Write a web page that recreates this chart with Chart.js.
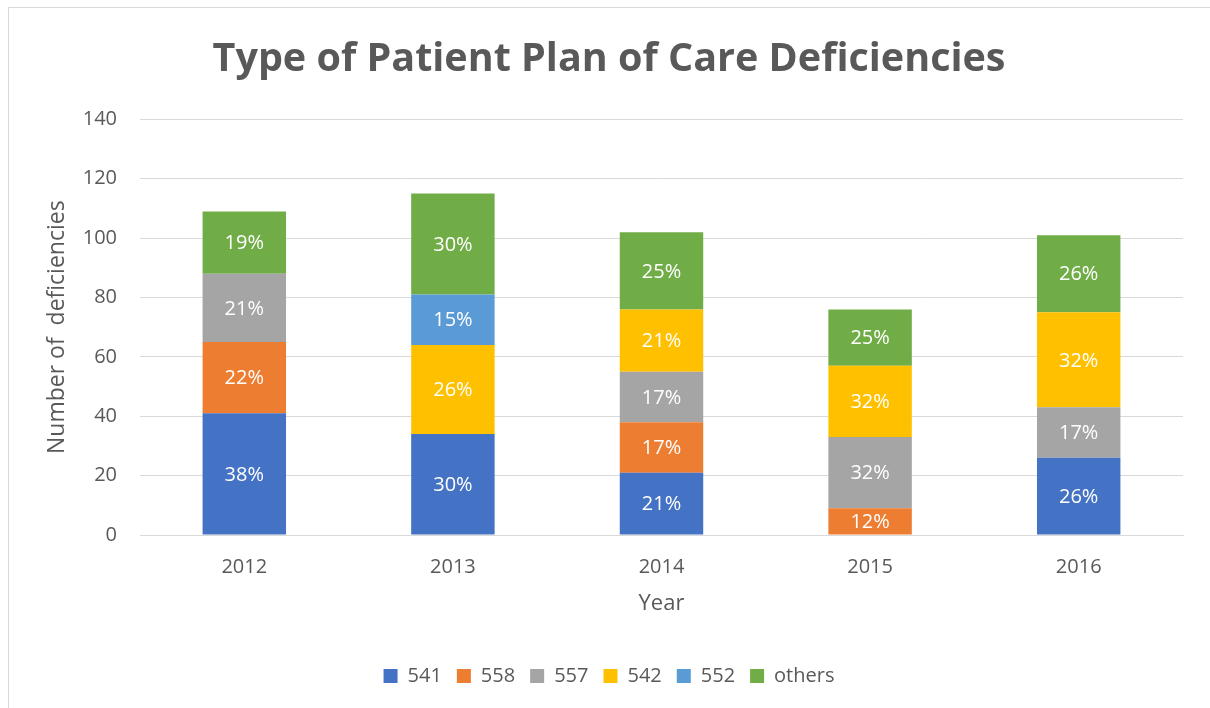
<!DOCTYPE html>
<html>
<head>
<meta charset="utf-8">
<script src="https://cdn.jsdelivr.net/npm/chart.js@4/dist/chart.umd.min.js"></script>
<style>
  html, body { margin: 0; padding: 0; background: #ffffff; }
  #wrap { position: relative; width: 1210px; height: 708px; overflow: hidden; }
  #frame { position: absolute; left: 8px; top: 7px; width: 1300px; height: 800px;
           border-left: 1px solid #D9D9D9; border-top: 1px solid #D9D9D9; pointer-events: none; }
  canvas { position: absolute; left: 0; top: 0; }
</style>
</head>
<body>
<div id="wrap">
  <canvas id="c" width="1210" height="708"></canvas>
  <div id="frame"></div>
</div>
<script>
const categories = ['2012', '2013', '2014', '2015', '2016'];
const seriesNames = ['541', '558', '557', '542', '552', 'others'];
const s541    = [41, 34, 21, 0, 26];
const s558    = [24, 0, 17, 9, 0];
const s557    = [23, 0, 17, 24, 17];
const s542    = [0, 30, 21, 24, 32];
const s552    = [0, 17, 0, 0, 0];
const sOthers = [21, 34, 26, 19, 26];
const colors = ['#4472C4', '#ED7D31', '#A5A5A5', '#FFC000', '#5B9BD5', '#70AD47'];
const yTicks = [0, 20, 40, 60, 80, 100, 120, 140];

const seriesValues = [s541, s558, s557, s542, s552, sOthers];
const totals = categories.map((_, i) => seriesValues.reduce((a, s) => a + s[i], 0));

const textColor = '#595959';
const gridColor = '#D9D9D9';
const FONT = "'Open Sans', 'Liberation Sans', sans-serif";

const pctLabels = {
  id: 'pctLabels',
  afterDatasetsDraw(chart) {
    const ctx = chart.ctx;
    ctx.save();
    ctx.font = '20px ' + FONT;
    ctx.fillStyle = '#ffffff';
    ctx.textAlign = 'center';
    ctx.textBaseline = 'middle';
    chart.data.datasets.forEach((ds, di) => {
      const meta = chart.getDatasetMeta(di);
      meta.data.forEach((bar, i) => {
        const v = ds.data[i];
        if (!v) return;
        const pct = Math.round(v / totals[i] * 100) + '%';
        const yMid = (bar.y + bar.base) / 2;
        ctx.fillText(pct, bar.x, yMid + 1);
      });
    });
    ctx.restore();
  }
};

new Chart(document.getElementById('c'), {
  type: 'bar',
  data: {
    labels: categories,
    datasets: seriesNames.map((n, k) => ({
      label: n,
      data: seriesValues[k],
      backgroundColor: colors[k],
      borderWidth: 0,
      barPercentage: 0.4,
      categoryPercentage: 1.0
    }))
  },
  options: {
    responsive: false,
    animation: false,
    devicePixelRatio: 1,
    layout: { padding: { left: 35, right: 27, top: 0, bottom: 12 } },
    plugins: {
      title: {
        display: true,
        text: 'Type of Patient Plan of Care Deficiencies',
        color: textColor,
        font: { family: FONT, size: 39.5, weight: 'bold' },
        padding: { top: 36, bottom: 36 }
      },
      legend: {
        position: 'bottom',
        labels: {
          color: textColor,
          font: { family: FONT, size: 20 },
          boxWidth: 14,
          boxHeight: 14,
          padding: 15
        }
      },
      tooltip: { enabled: false }
    },
    scales: {
      x: {
        stacked: true,
        grid: { display: false, drawTicks: false },
        border: { display: true, color: gridColor, width: 1 },
        ticks: { color: textColor, font: { family: FONT, size: 20 }, padding: 20 },
        title: {
          display: true, text: 'Year', color: textColor,
          font: { family: FONT, size: 22 }, padding: { top: 0, bottom: 34 }
        },
        afterFit(scale) { scale.height = 116; }
      },
      y: {
        stacked: true,
        min: 0, max: 140,
        afterBuildTicks(scale) { scale.ticks = yTicks.map(v => ({ value: v })); },
        grid: { color: gridColor, lineWidth: 1, drawTicks: false },
        border: { display: false },
        ticks: { color: textColor, font: { family: FONT, size: 20 }, padding: 23 },
        title: {
          display: true, text: 'Number of  deficiencies', color: textColor,
          font: { family: FONT, size: 23 }, padding: { top: 9, bottom: 0 }
        },
        afterFit(scale) { scale.width = 105; }
      }
    }
  },
  plugins: [pctLabels]
});
</script>
</body>
</html>
